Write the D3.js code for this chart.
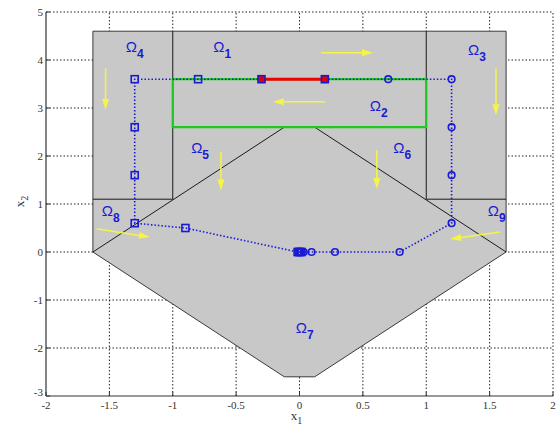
<!DOCTYPE html>
<html>
<head>
<meta charset="utf-8">
<script src="https://cdn.jsdelivr.net/npm/d3@7"></script>
<style>
  body { margin: 0; background: #fff; }
  svg { display: block; }
</style>
</head>
<body>
<div id="chart-container"></div>
<script>
// Axis ticks
const xTicks = [-2, -1.5, -1, -0.5, 0, 0.5, 1, 1.5, 2];
const yTicks = [-3, -2, -1, 0, 1, 2, 3, 4, 5];

// Gray region outline (x1, x2)
const regionOuter = [[-1.63, 4.6], [1.63, 4.6], [1.63, 0], [0.12, -2.6], [-0.12, -2.6], [-1.63, 0]];

// Partition borders inside the region
const partitionLines = [
    [[-1, 4.6], [-1, 1.1]],
    [[1, 4.6], [1, 1.1]],
    [[-1.63, 1.1], [-1, 1.1]],
    [[1, 1.1], [1.63, 1.1]],
    [[-1.63, 0], [-0.12, 2.6]],
    [[1.63, 0], [0.12, 2.6]]
];

// Green target box and red initial segment
const targetBox = [[-1, 2.6], [1, 2.6], [1, 3.6], [-1, 3.6]];
const redSegment = [[-0.3, 3.6], [0.2, 3.6]];

// Trajectories
const trajSquares = [[-0.3, 3.6], [-0.8, 3.6], [-1.3, 3.6], [-1.3, 2.6], [-1.3, 1.6], [-1.3, 0.6],
    [-0.9, 0.5], [-0.015, 0], [-0.005, 0], [0.005, 0], [0.015, 0]];
const trajCircles = [[0.2, 3.6], [0.7, 3.6], [1.2, 3.6], [1.2, 2.6], [1.2, 1.6], [1.2, 0.6],
    [0.79, 0], [0.28, 0], [0.095, 0], [0.033, 0], [0.012, 0]];

// Flow arrows [from, to]
const arrows = [
    [[-1.53, 3.83], [-1.53, 2.96]],
    [[0.17, 4.15], [0.58, 4.15]],
    [[0.2, 3.13], [-0.21, 3.13]],
    [[1.55, 3.83], [1.55, 2.85]],
    [[-0.62, 2.09], [-0.62, 1.28]],
    [[0.61, 2.12], [0.61, 1.31]],
    [[-1.6, 0.485], [-1.18, 0.31]],
    [[1.58, 0.417], [1.19, 0.27]]
];

// Region labels
const regionLabels = [
    { sub: "1", x: -0.68, y: 4.17 },
    { sub: "2", x: 0.555, y: 2.94 },
    { sub: "3", x: 1.33, y: 4.1 },
    { sub: "4", x: -1.37, y: 4.17 },
    { sub: "5", x: -0.855, y: 2.06 },
    { sub: "6", x: 0.74, y: 2.06 },
    { sub: "7", x: -0.03, y: -1.69 },
    { sub: "8", x: -1.56, y: 0.75 },
    { sub: "9", x: 1.485, y: 0.75 }
];

const width = 558;
const height = 430;
const margin = { top: 12, right: 5, bottom: 34, left: 46 };

const x = d3.scaleLinear().domain([-2, 2]).range([margin.left, width - margin.right]);
const y = d3.scaleLinear().domain([-3, 5]).range([height - margin.bottom, margin.top]);

const svg = d3.select("#chart-container")
    .append("svg")
    .attr("width", width)
    .attr("height", height);

// Grid (under the region)
const grid = svg.append("g")
    .attr("stroke", "#222")
    .attr("stroke-width", 1)
    .attr("stroke-dasharray", "1.5,2");
grid.selectAll(".gx")
    .data(xTicks.filter(d => d !== -2))
    .enter().append("line")
    .attr("x1", d => x(d)).attr("x2", d => x(d))
    .attr("y1", y(-3)).attr("y2", y(5));
grid.selectAll(".gy")
    .data(yTicks.filter(d => d !== -3))
    .enter().append("line")
    .attr("x1", x(-2)).attr("x2", x(2))
    .attr("y1", d => y(d)).attr("y2", d => y(d));

const line = d3.line().x(d => x(d[0])).y(d => y(d[1]));

// Gray region
svg.append("path")
    .attr("d", line(regionOuter) + "Z")
    .attr("fill", "#c8c8c8")
    .attr("stroke", "#3a3a3a")
    .attr("stroke-width", 1);

svg.append("g")
    .selectAll("path")
    .data(partitionLines)
    .enter().append("path")
    .attr("d", d => line(d))
    .attr("stroke", "#1a1a1a")
    .attr("stroke-width", 1)
    .attr("fill", "none");

// Green box
svg.append("path")
    .attr("d", line(targetBox) + "Z")
    .attr("fill", "none")
    .attr("stroke", "#1ec81e")
    .attr("stroke-width", 2.2);

// Red segment
svg.append("path")
    .attr("d", line(redSegment))
    .attr("stroke", "#f00000")
    .attr("stroke-width", 3)
    .attr("fill", "none");

// Trajectory lines
const blue = "#1a1ad2";
[trajSquares, trajCircles].forEach(traj => {
    svg.append("path")
        .attr("d", line(traj))
        .attr("fill", "none")
        .attr("stroke", blue)
        .attr("stroke-width", 1.6)
        .attr("stroke-dasharray", "1.5,2");
});

// Markers
svg.append("g")
    .selectAll("rect")
    .data(trajSquares)
    .enter().append("rect")
    .attr("x", d => x(d[0]) - 3.5)
    .attr("y", d => y(d[1]) - 3.5)
    .attr("width", 7)
    .attr("height", 7)
    .attr("fill", (d, i) => i === 0 ? "#e00000" : "none")
    .attr("stroke", blue)
    .attr("stroke-width", 1.6);

svg.append("g")
    .selectAll("circle")
    .data(trajCircles.slice(1))
    .enter().append("circle")
    .attr("cx", d => x(d[0]))
    .attr("cy", d => y(d[1]))
    .attr("r", 3.3)
    .attr("fill", "none")
    .attr("stroke", blue)
    .attr("stroke-width", 1.6);

// red square at right end of the red segment
svg.append("rect")
    .attr("x", x(trajCircles[0][0]) - 3.5)
    .attr("y", y(trajCircles[0][1]) - 3.5)
    .attr("width", 7)
    .attr("height", 7)
    .attr("fill", "#e00000")
    .attr("stroke", blue)
    .attr("stroke-width", 1.6);

// Yellow arrows
const yellow = "#f5f545";
const arrowG = svg.append("g");
arrows.forEach(([a, b]) => {
    const x1 = x(a[0]), y1 = y(a[1]), x2 = x(b[0]), y2 = y(b[1]);
    const ang = Math.atan2(y2 - y1, x2 - x1);
    const hl = 11, hw = 3.5;
    const bx = x2 - hl * Math.cos(ang), by = y2 - hl * Math.sin(ang);
    arrowG.append("line")
        .attr("x1", x1).attr("y1", y1).attr("x2", bx).attr("y2", by)
        .attr("stroke", yellow).attr("stroke-width", 1.5);
    arrowG.append("path")
        .attr("d", `M${x2},${y2}L${bx - hw * Math.sin(ang)},${by + hw * Math.cos(ang)}L${bx + hw * Math.sin(ang)},${by - hw * Math.cos(ang)}Z`)
        .attr("fill", yellow);
});

// Region labels
const labels = svg.append("g")
    .attr("fill", "#1a1ad2")
    .style("font-family", "'Liberation Sans', Arial, sans-serif");
regionLabels.forEach(d => {
    const t = labels.append("text")
        .attr("x", x(d.x))
        .attr("y", y(d.y))
        .style("font-size", "15px");
    t.append("tspan").text("Ω");
    t.append("tspan").attr("dy", 6).style("font-size", "12px").style("font-weight", "bold").text(d.sub);
});

// Axes
const axisColor = "#333";
svg.append("line")
    .attr("x1", x(-2)).attr("x2", x(2))
    .attr("y1", y(-3)).attr("y2", y(-3))
    .attr("stroke", axisColor).attr("stroke-width", 1.2);
svg.append("line")
    .attr("x1", x(-2)).attr("x2", x(-2))
    .attr("y1", y(-3)).attr("y2", y(5))
    .attr("stroke", axisColor).attr("stroke-width", 1.2);

svg.append("g").selectAll("line")
    .data(xTicks)
    .enter().append("line")
    .attr("x1", d => x(d)).attr("x2", d => x(d))
    .attr("y1", y(-3)).attr("y2", y(-3) - 4)
    .attr("stroke", axisColor);
svg.append("g").selectAll("line")
    .data(yTicks)
    .enter().append("line")
    .attr("x1", x(-2)).attr("x2", x(-2) + 4)
    .attr("y1", d => y(d)).attr("y2", d => y(d))
    .attr("stroke", axisColor);

const tickFont = "'Liberation Serif', 'Times New Roman', serif";
svg.append("g").selectAll("text")
    .data(xTicks)
    .enter().append("text")
    .attr("x", d => x(d))
    .attr("y", y(-3) + 13)
    .attr("text-anchor", "middle")
    .style("font-family", tickFont)
    .style("font-size", "11px")
    .attr("fill", "#333")
    .text(d => d);
svg.append("g").selectAll("text")
    .data(yTicks)
    .enter().append("text")
    .attr("x", x(-2) - 3)
    .attr("y", d => y(d) + (d === -3 ? 0 : 4))
    .attr("text-anchor", "end")
    .style("font-family", tickFont)
    .style("font-size", "11px")
    .attr("fill", "#333")
    .text(d => d);

// Axis titles
const xl = svg.append("text")
    .attr("x", x(0) - 3)
    .attr("y", 420)
    .attr("text-anchor", "middle")
    .style("font-family", tickFont)
    .style("font-size", "13px")
    .attr("fill", "#333");
xl.append("tspan").text("x");
xl.append("tspan").attr("dy", 4).style("font-size", "10px").text("1");

const yl = svg.append("text")
    .attr("transform", `translate(24, ${y(1.05)}) rotate(-90)`)
    .attr("text-anchor", "middle")
    .style("font-family", tickFont)
    .style("font-size", "13px")
    .attr("fill", "#333");
yl.append("tspan").text("x");
yl.append("tspan").attr("dy", 4).style("font-size", "10px").text("2");
</script>
</body>
</html>
